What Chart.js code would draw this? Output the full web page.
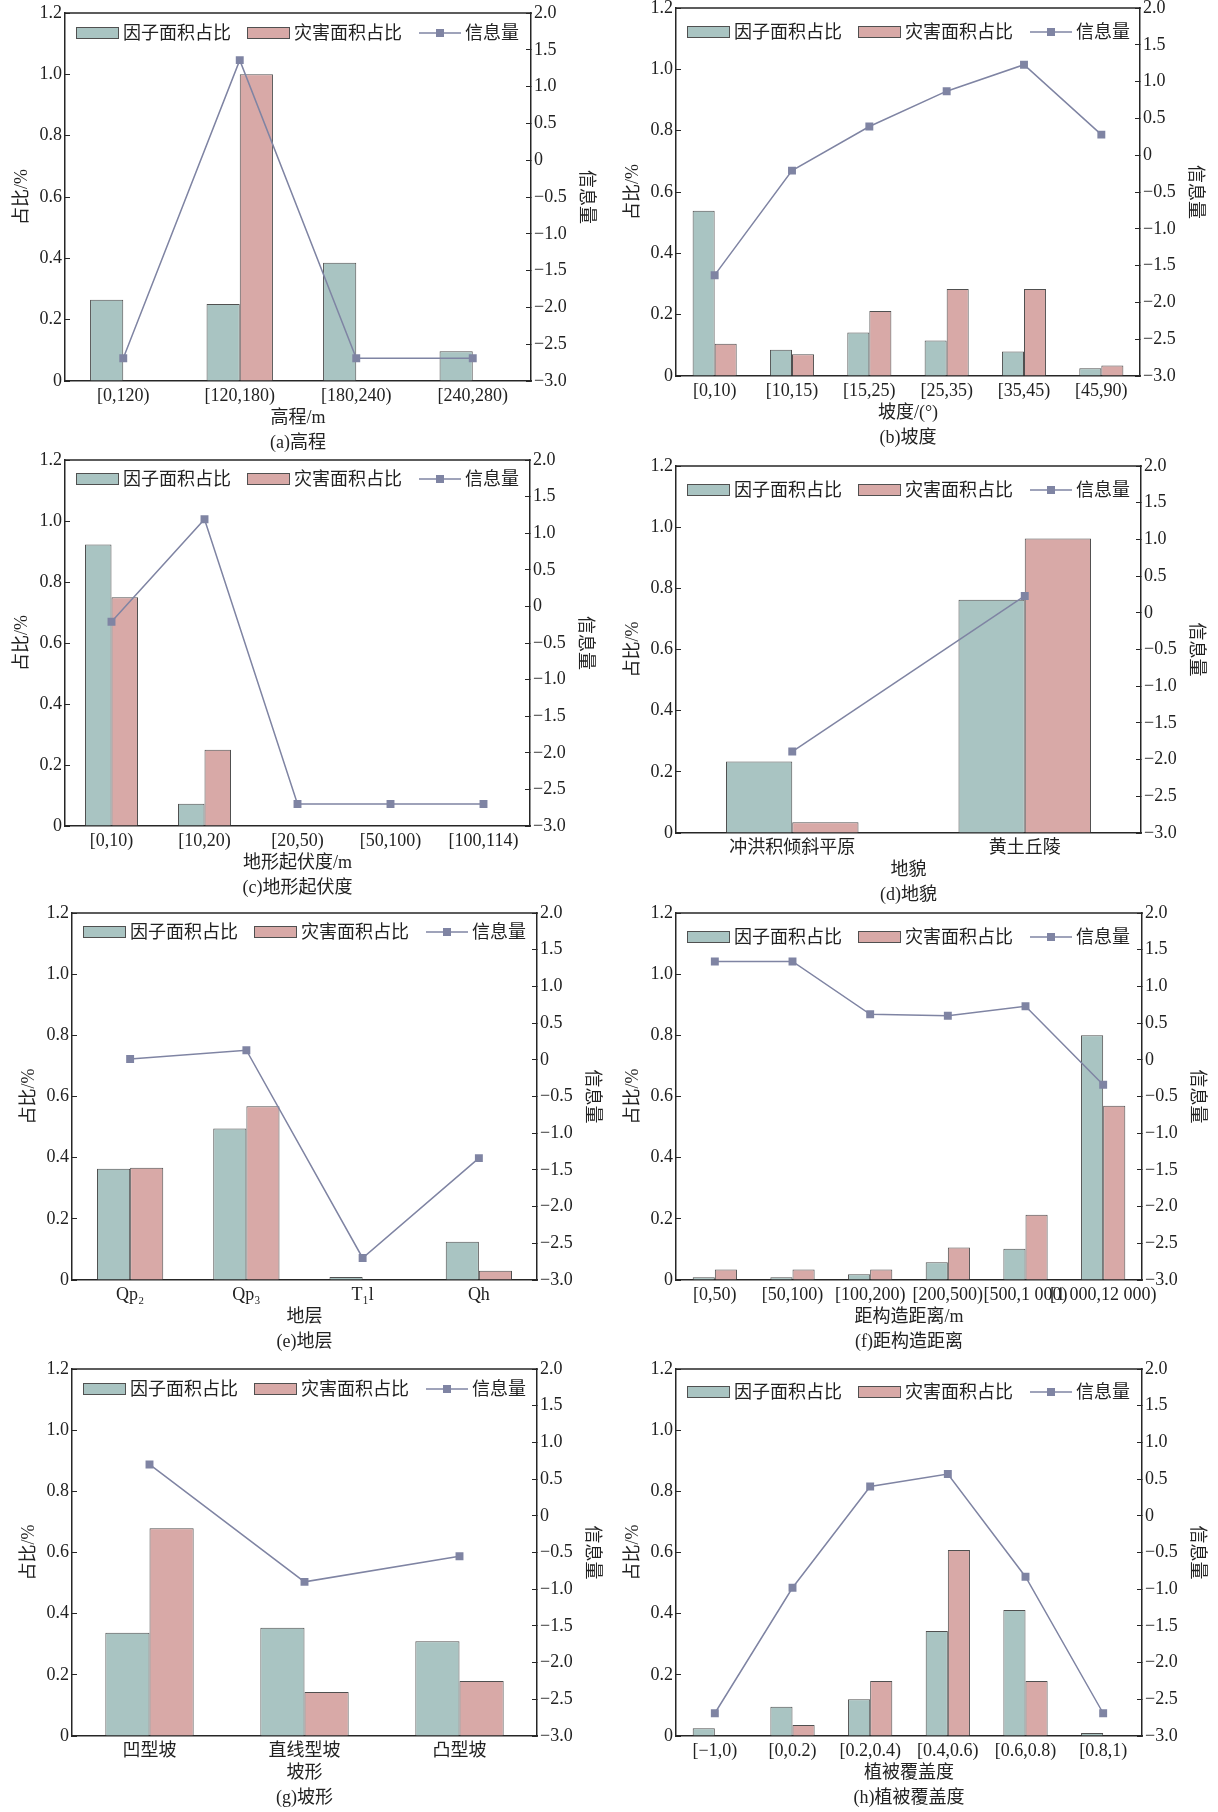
<!DOCTYPE html>
<html>
<head>
<meta charset="utf-8">
<script src="https://cdn.jsdelivr.net/npm/chart.js@4/dist/chart.umd.min.js"></script>
<style>
  html, body { margin: 0; padding: 0; background: #ffffff; }
  #sheet { position: relative; width: 1218px; height: 1812px; background: #ffffff; }
  #sheet canvas { position: absolute; }
</style>
</head>
<body>
<div id="sheet"></div>
<script>
// ---- (a) 高程 ----
const elevationLabels = ['[0,120)', '[120,180)', '[180,240)', '[240,280)'];
const elevationFactor = [0.265, 0.251, 0.386, 0.097];
const elevationHazard = [0, 1.0, 0, 0];
const elevationInfo   = [-2.69, 1.36, -2.69, -2.69];

// ---- (b) 坡度 ----
const slopeLabels = ['[0,10)', '[10,15)', '[15,25)', '[25,35)', '[35,45)', '[45,90)'];
const slopeFactor = [0.539, 0.086, 0.142, 0.116, 0.080, 0.025];
const slopeHazard = [0.105, 0.071, 0.212, 0.284, 0.284, 0.034];
const slopeInfo   = [-1.63, -0.21, 0.39, 0.87, 1.23, 0.28];

// ---- (c) 地形起伏度 ----
const reliefLabels = ['[0,10)', '[10,20)', '[20,50)', '[50,100)', '[100,114)'];
const reliefFactor = [0.923, 0.073, 0, 0, 0];
const reliefHazard = [0.75, 0.25, 0, 0, 0];
const reliefInfo   = [-0.21, 1.19, -2.70, -2.70, -2.70];

// ---- (d) 地貌 ----
const landformLabels = ['冲洪积倾斜平原', '黄土丘陵'];
const landformFactor = [0.234, 0.763];
const landformHazard = [0.035, 0.963];
const landformInfo   = [-1.89, 0.23];

// ---- (e) 地层 ----
const strataLabels = ['Qp₂', 'Qp₃', 'T₁l', 'Qh'];
const strataFactor = [0.364, 0.495, 0.010, 0.125];
const strataHazard = [0.367, 0.568, 0, 0.030];
const strataInfo   = [0.01, 0.13, -2.70, -1.34];

// ---- (f) 距构造距离 ----
const faultLabels = ['[0,50)', '[50,100)', '[100,200)', '[200,500)', '[500,1 000)', '[1 000,12 000)'];
const faultFactor = [0.009, 0.009, 0.019, 0.058, 0.102, 0.80];
const faultHazard = [0.034, 0.034, 0.034, 0.106, 0.213, 0.570];
const faultInfo   = [1.34, 1.34, 0.62, 0.60, 0.73, -0.34];

// ---- (g) 坡形 ----
const shapeLabels = ['凹型坡', '直线型坡', '凸型坡'];
const shapeFactor = [0.338, 0.354, 0.310];
const shapeHazard = [0.679, 0.144, 0.180];
const shapeInfo   = [0.70, -0.90, -0.55];

// ---- (h) 植被覆盖度 ----
const ndviLabels = ['[−1,0)', '[0,0.2)', '[0.2,0.4)', '[0.4,0.6)', '[0.6,0.8)', '[0.8,1)'];
const ndviFactor = [0.025, 0.096, 0.12, 0.343, 0.412, 0.01];
const ndviHazard = [0, 0.036, 0.18, 0.608, 0.18, 0];
const ndviInfo   = [-2.69, -0.98, 0.40, 0.57, -0.83, -2.69];

// shared axis settings
const leftAxisTitle  = '占比/%';
const rightAxisTitle = '信息量';
const seriesNames = ['因子面积占比', '灾害面积占比', '信息量'];

const FONT = '"Liberation Serif", "Noto Sans CJK SC", serif';
const TEXT = '#222222';
const AXIS = '#262626';
const TEAL = '#a9c4c2';
const PINK = '#d8a9a7';
const BAR_EDGE = '#505050';
const LINE = '#7f84a3';

// margins around each plot box (top margin exceeds the tick-label overhang)
const PAD_L = 65, PAD_R = 70, PAD_T = 22, PAD_B = 80;

const panels = [
  { box: [65, 13, 531, 381],    labels: elevationLabels, factor: elevationFactor, hazard: elevationHazard, info: elevationInfo, xTitle: '高程/m',       caption: '(a)高程',       keyDy: 20 },
  { box: [676, 8, 1140, 376],   labels: slopeLabels,     factor: slopeFactor,     hazard: slopeHazard,     info: slopeInfo,     xTitle: '坡度/(°)',     caption: '(b)坡度',       keyDy: 24 },
  { box: [65, 460, 530, 826],   labels: reliefLabels,    factor: reliefFactor,    hazard: reliefHazard,    info: reliefInfo,    xTitle: '地形起伏度/m', caption: '(c)地形起伏度', keyDy: 19 },
  { box: [676, 466, 1141, 833], labels: landformLabels,  factor: landformFactor,  hazard: landformHazard,  info: landformInfo,  xTitle: '地貌',         caption: '(d)地貌',       keyDy: 24 },
  { box: [72, 913, 537, 1280],  labels: strataLabels,    factor: strataFactor,    hazard: strataHazard,    info: strataInfo,    xTitle: '地层',         caption: '(e)地层',       keyDy: 19 },
  { box: [676, 913, 1142, 1280],labels: faultLabels,     factor: faultFactor,     hazard: faultHazard,     info: faultInfo,     xTitle: '距构造距离/m', caption: '(f)距构造距离', keyDy: 24 },
  { box: [72, 1369, 537, 1736], labels: shapeLabels,     factor: shapeFactor,     hazard: shapeHazard,     info: shapeInfo,     xTitle: '坡形',         caption: '(g)坡形',       keyDy: 20 },
  { box: [676, 1369, 1142, 1736],labels: ndviLabels,     factor: ndviFactor,      hazard: ndviHazard,      info: ndviInfo,      xTitle: '植被覆盖度',   caption: '(h)植被覆盖度', keyDy: 23 }
];

// Closes the plot frame along the top and draws the in-plot key.
const frameAndKey = {
  id: 'frameAndKey',
  afterDraw(chart, args, opts) {
    const { ctx, chartArea: { left, top, right } } = chart;
    const ds = chart.data.datasets;
    ctx.save();
    ctx.strokeStyle = AXIS;
    ctx.lineWidth = 1.5;
    ctx.beginPath();
    ctx.moveTo(left - 0.75, top);
    ctx.lineTo(right + 0.75, top);
    ctx.stroke();

    const y = top + opts.dy;
    ctx.font = '18px ' + FONT;
    ctx.fillStyle = TEXT;
    ctx.textBaseline = 'middle';
    ctx.textAlign = 'left';

    const bars = [ds[1], ds[2]];
    const boxX = [left + 11, left + 182];
    bars.forEach((d, i) => {
      ctx.fillStyle = d.backgroundColor;
      ctx.fillRect(boxX[i], y - 6, 43, 12);
      ctx.strokeStyle = BAR_EDGE;
      ctx.lineWidth = 1;
      ctx.strokeRect(boxX[i] + 0.5, y - 5.5, 42, 11);
      ctx.fillStyle = TEXT;
      ctx.fillText(d.label, boxX[i] + 47, y + 1);
    });

    const ln = ds[0];
    ctx.strokeStyle = ln.borderColor;
    ctx.lineWidth = 1.5;
    ctx.beginPath();
    ctx.moveTo(left + 354, y);
    ctx.lineTo(left + 396, y);
    ctx.stroke();
    ctx.fillStyle = ln.borderColor;
    ctx.fillRect(left + 371, y - 4, 8, 8);
    ctx.fillStyle = TEXT;
    ctx.fillText(ln.label, left + 400, y + 1);
    ctx.restore();
  }
};

const sheet = document.getElementById('sheet');

panels.forEach((p) => {
  const [l, t, r, b] = p.box;
  const canvas = document.createElement('canvas');
  const w = (r - l) + PAD_L + PAD_R;
  const h = (b - t) + PAD_T + PAD_B;
  canvas.width = w;
  canvas.height = h;
  canvas.style.width = w + 'px';
  canvas.style.height = h + 'px';
  canvas.style.left = (l - PAD_L) + 'px';
  canvas.style.top = (t - PAD_T) + 'px';
  sheet.appendChild(canvas);

  new Chart(canvas, {
    data: {
      labels: p.labels,
      datasets: [
        {
          type: 'line', label: seriesNames[2], data: p.info, yAxisID: 'y1', order: 0,
          borderColor: LINE, backgroundColor: LINE, borderWidth: 1.5, tension: 0,
          pointStyle: 'rect', pointRadius: 5.6, pointBackgroundColor: LINE,
          pointBorderColor: LINE, pointBorderWidth: 0, fill: false
        },
        {
          type: 'bar', label: seriesNames[0], data: p.factor, yAxisID: 'y', order: 1,
          backgroundColor: TEAL, borderColor: BAR_EDGE, borderWidth: 1,
          barPercentage: 1, categoryPercentage: 0.57
        },
        {
          type: 'bar', label: seriesNames[1], data: p.hazard, yAxisID: 'y', order: 1,
          backgroundColor: PINK, borderColor: BAR_EDGE, borderWidth: 1,
          barPercentage: 1, categoryPercentage: 0.57
        }
      ]
    },
    options: {
      responsive: false,
      animation: false,
      events: [],
      layout: { padding: { top: PAD_T, left: 0, right: 0, bottom: 0 } },
      plugins: {
        legend: { display: false },
        tooltip: { enabled: false },
        frameAndKey: { dy: p.keyDy }
      },
      scales: {
        x: {
          type: 'category',
          offset: true,
          grid: { display: false, drawTicks: false },
          border: { display: true, color: AXIS, width: 1.5 },
          ticks: {
            autoSkip: false, maxRotation: 0, minRotation: 0, padding: 4,
            color: TEXT, font: { family: FONT, size: 18, lineHeight: 1.2 }
          },
          title: {
            display: true, text: [p.xTitle, p.caption], color: TEXT,
            font: { family: FONT, size: 18, lineHeight: 1.39 },
            padding: { top: 0, bottom: 5.5 }
          },
          afterFit: (s) => { s.height = PAD_B; }
        },
        y: {
          position: 'left', min: 0, max: 1.2,
          grid: { drawOnChartArea: false, drawTicks: true, tickLength: -5, tickColor: AXIS, tickWidth: 1 },
          border: { display: true, color: AXIS, width: 1.5 },
          ticks: {
            stepSize: 0.2, padding: 8, color: TEXT,
            font: { family: FONT, size: 18, lineHeight: 1.2 },
            callback: (v) => (Math.abs(v) < 1e-9 ? '0' : Number(v).toFixed(1))
          },
          title: {
            display: true, text: leftAxisTitle, color: TEXT,
            font: { family: FONT, size: 18, lineHeight: 1.2 },
            padding: { top: 11, bottom: 0 }
          },
          afterFit: (s) => { s.width = PAD_L; }
        },
        y1: {
          position: 'right', min: -3, max: 2,
          grid: { drawOnChartArea: false, drawTicks: true, tickLength: -5, tickColor: AXIS, tickWidth: 1 },
          border: { display: true, color: AXIS, width: 1.5 },
          ticks: {
            stepSize: 0.5, padding: 8, color: TEXT,
            font: { family: FONT, size: 18, lineHeight: 1.2 },
            callback: (v) => {
              if (Math.abs(v) < 1e-9) return '0';
              return (v < 0 ? '−' : '') + Math.abs(v).toFixed(1);
            }
          },
          title: {
            display: true, text: rightAxisTitle, color: TEXT,
            font: { family: FONT, size: 18, lineHeight: 1.2 },
            padding: { top: 4, bottom: 0 }
          },
          afterFit: (s) => { s.width = PAD_R; }
        }
      }
    },
    plugins: [frameAndKey]
  });
});
</script>
</body>
</html>
